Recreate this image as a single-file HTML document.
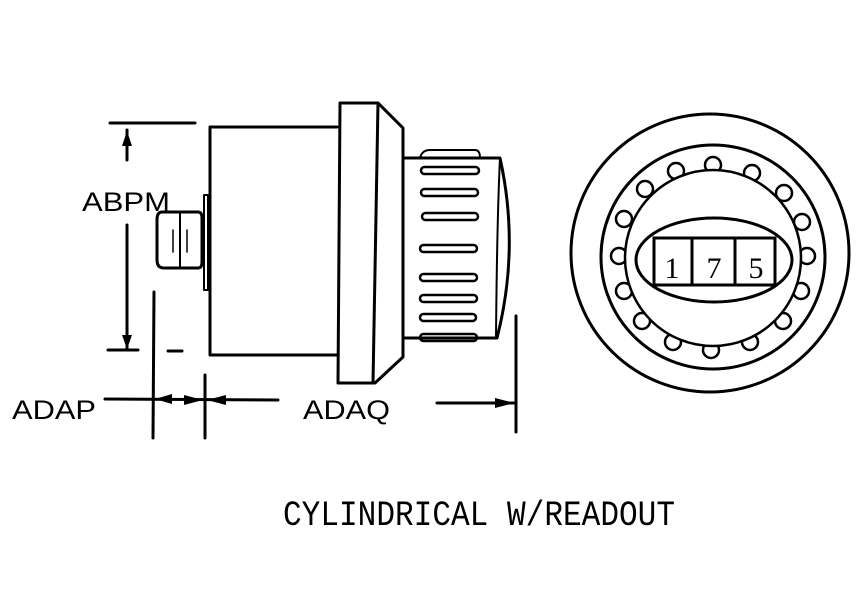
<!DOCTYPE html>
<html><head><style>html,body{margin:0;padding:0;background:#fff}svg{display:block}</style></head>
<body>
<svg width="867" height="610" viewBox="0 0 867 610" xmlns="http://www.w3.org/2000/svg">
<g fill="none" stroke="#000" stroke-width="3" stroke-linejoin="round" stroke-linecap="round">
<!-- body -->
<path d="M337,127 H210 V355 H338"/>
<path d="M208,290 V195 L204,195 V290 Z" stroke-width="2"/>
<!-- knob -->
<path d="M162,212 H198 Q202,212 202,218 V262 Q202,268 198,268 H164 Q157,268 157,260 V220 Q157,212 162,212 Z"/>
<line x1="180" y1="213" x2="180" y2="267" stroke-width="2"/>
<line x1="173" y1="230" x2="173" y2="252" stroke-width="1.5"/>
<line x1="187" y1="230" x2="187" y2="252" stroke-width="1.5"/>
<!-- flange -->
<path d="M340,103 H378 L403,128 V357 L375,383 H338 Z"/>
<line x1="378" y1="103" x2="373" y2="383"/>
<!-- knurled -->
<path d="M403,158 H500 Q520,248 497,338 H403"/>
<path d="M500,158 V158 Q497,220 496,338" stroke-width="2"/>
<path d="M420,158 Q422,150 430,150 H475 Q480,150 480,158" stroke-width="2"/>
<g stroke-width="2.5">
<rect x="421" y="167" width="58" height="7" rx="3.5"/>
<rect x="421" y="189" width="57" height="7" rx="3.5"/>
<rect x="422" y="213" width="56" height="7" rx="3.5"/>
<rect x="420" y="245" width="57" height="7" rx="3.5"/>
<rect x="420" y="274" width="57" height="7" rx="3.5"/>
<rect x="420" y="295" width="57" height="7" rx="3.5"/>
<rect x="420" y="314" width="56" height="7" rx="3.5"/>
<rect x="420" y="334" width="57" height="7" rx="3.5"/>
</g>
<!-- dimensions -->
<line x1="110" y1="123" x2="195" y2="123"/>
<line x1="127" y1="130" x2="127" y2="160"/>
<line x1="127" y1="225" x2="127" y2="348"/>
<line x1="108" y1="350" x2="138" y2="350"/>
<line x1="168" y1="351" x2="182" y2="351"/>
<line x1="154" y1="292" x2="153" y2="438"/>
<line x1="205" y1="375" x2="205" y2="438"/>
<line x1="516" y1="316" x2="516" y2="432"/>
<line x1="105" y1="399" x2="278" y2="400"/>
<line x1="437" y1="403" x2="515" y2="403"/>
</g>
<g fill="#000">
<path d="M127,131 L122,146 H132 Z"/>
<path d="M127,349 L122,335 H132 Z"/>
<path d="M155,399 L172,394 V404 Z"/>
<path d="M203,400 L184,395 V405 Z"/>
<path d="M207,400 L226,395 V405 Z"/>
<path d="M514,403 L495,398 V408 Z"/>
</g>
<!-- right view -->
<g fill="none" stroke="#000" stroke-width="3">
<circle cx="710" cy="253" r="139"/>
<circle cx="713" cy="257" r="112"/>
<g stroke-width="2.5" fill="#fff">
<circle cx="713" cy="165" r="8"/><circle cx="752" cy="173" r="8"/><circle cx="784" cy="193" r="8"/>
<circle cx="802" cy="222" r="8"/><circle cx="807" cy="256" r="8"/><circle cx="801" cy="291" r="8"/>
<circle cx="783" cy="321" r="8"/><circle cx="750" cy="342" r="8"/><circle cx="711" cy="350" r="8"/>
<circle cx="673" cy="342" r="8"/><circle cx="642" cy="321" r="8"/><circle cx="624" cy="291" r="8"/>
<circle cx="619" cy="256" r="8"/><circle cx="624" cy="219" r="8"/><circle cx="645" cy="189" r="8"/>
<circle cx="676" cy="171" r="8"/>
</g>
<circle cx="713" cy="258" r="88" stroke-width="2.5" fill="#fff"/>
<ellipse cx="714" cy="260" rx="78" ry="42" fill="#fff"/>
<rect x="654" y="238" width="121" height="47" fill="#fff"/>
<line x1="692" y1="238" x2="692" y2="285"/>
<line x1="735" y1="238" x2="735" y2="285"/>
</g>
<g font-family="'Liberation Serif',serif" font-size="30" text-anchor="middle">
<text x="672" y="278">1</text><text x="714" y="278">7</text><text x="756" y="278">5</text>
</g>
<g font-family="'Liberation Sans',sans-serif" font-size="27">
<text x="82" y="211" textLength="88" lengthAdjust="spacingAndGlyphs">ABPM</text>
<text x="12" y="419" textLength="84" lengthAdjust="spacingAndGlyphs">ADAP</text>
<text x="303" y="419" textLength="87" lengthAdjust="spacingAndGlyphs">ADAQ</text>
</g>
<text x="283" y="525" font-family="'Liberation Mono',monospace" font-size="35" textLength="392" lengthAdjust="spacingAndGlyphs">CYLINDRICAL W/READOUT</text>
</svg>
</body></html>
